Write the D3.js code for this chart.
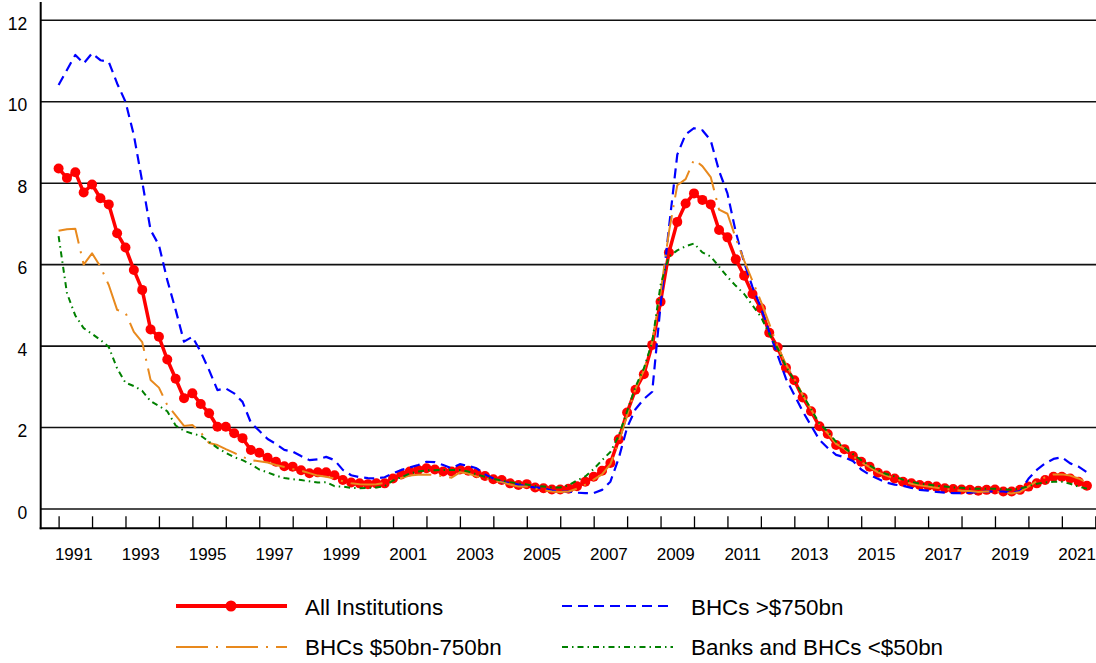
<!DOCTYPE html>
<html><head><meta charset="utf-8">
<script src="https://cdn.jsdelivr.net/npm/d3@7"></script>
<style>
body{margin:0;background:#fff}
svg{display:block}
text{font-family:"Liberation Sans",Arial,Helvetica,sans-serif;fill:#000}
</style>
</head><body>
<svg id="chart" width="1096" height="663"></svg>
<script>
// ---- data (quarterly, 1991Q1 .. 2021Q4) ----
const quarters = [];
for (let yr = 1991; yr <= 2021; yr++) for (let q = 1; q <= 4; q++) quarters.push(yr + "Q" + q);

const allInstitutions = [
 8.36, 8.13, 8.27, 7.77, 7.97, 7.63, 7.48, 6.77, 6.42, 5.87,
 5.38, 4.41, 4.23, 3.67, 3.2, 2.72, 2.84, 2.58, 2.35, 2.02,
 2.02, 1.86, 1.74, 1.45, 1.38, 1.26, 1.16, 1.05, 1.04, 0.95,
 0.88, 0.9, 0.9, 0.83, 0.71, 0.65, 0.63, 0.61, 0.63, 0.63,
 0.75, 0.85, 0.92, 0.96, 1.0, 0.97, 0.92, 0.92, 0.97, 0.94,
 0.88, 0.81, 0.73, 0.71, 0.63, 0.59, 0.61, 0.53, 0.51, 0.48,
 0.48, 0.5, 0.56, 0.67, 0.79, 0.94, 1.13, 1.71, 2.37, 2.93,
 3.31, 4.03, 5.09, 6.3, 7.05, 7.5, 7.75, 7.59, 7.48, 6.85,
 6.67, 6.13, 5.73, 5.28, 4.93, 4.33, 3.97, 3.47, 3.16, 2.74,
 2.4, 2.03, 1.84, 1.57, 1.47, 1.3, 1.16, 1.04, 0.89, 0.82,
 0.75, 0.67, 0.63, 0.59, 0.57, 0.55, 0.51, 0.49, 0.48, 0.47,
 0.45, 0.47, 0.48, 0.43, 0.43, 0.47, 0.55, 0.63, 0.71, 0.79,
 0.79, 0.75, 0.67, 0.57];

const bhcsOver750 = [
 10.41, 10.78, 11.15, 10.94, 11.19, 11.02, 10.98, 10.45, 10.0, 9.18,
 8.04, 6.85, 6.48, 5.62, 4.89, 4.11, 4.23, 3.86, 3.41, 2.92,
 2.96, 2.84, 2.63, 2.12, 1.92, 1.72, 1.6, 1.45, 1.41, 1.3,
 1.2, 1.22, 1.28, 1.2, 0.96, 0.83, 0.78, 0.76, 0.75, 0.78,
 0.88, 0.96, 1.02, 1.08, 1.16, 1.15, 1.08, 1.0, 1.1, 1.06,
 1.0, 0.85, 0.75, 0.66, 0.64, 0.6, 0.55, 0.53, 0.51, 0.45,
 0.43, 0.43, 0.4, 0.39, 0.39, 0.47, 0.67, 1.25, 2.0, 2.45,
 2.7, 2.88, 5.0, 6.9, 8.7, 9.2, 9.35, 9.3, 9.05, 8.3,
 7.75, 6.8, 6.05, 5.45, 4.95, 4.35, 3.78, 3.2, 2.8, 2.4,
 2.05, 1.7, 1.5, 1.33, 1.27, 1.18, 0.97, 0.84, 0.74, 0.65,
 0.6, 0.57, 0.52, 0.47, 0.45, 0.42, 0.4, 0.39, 0.39, 0.4,
 0.42, 0.43, 0.43, 0.43, 0.4, 0.44, 0.74, 0.96, 1.12, 1.23,
 1.27, 1.12, 1.04, 0.9];

const bhcs50to750 = [
 6.83, 6.87, 6.88, 6.0, 6.28, 5.95, 5.5, 4.89, 4.82, 4.35,
 4.1, 3.17, 2.98, 2.55, 2.3, 2.04, 2.06, 1.88, 1.62, 1.57,
 1.47, 1.38, 1.28, 1.2, 1.17, 1.14, 1.08, 1.03, 0.98, 0.94,
 0.88, 0.82, 0.79, 0.75, 0.68, 0.63, 0.61, 0.6, 0.61, 0.64,
 0.7, 0.76, 0.82, 0.84, 0.85, 0.83, 0.8, 0.77, 0.9, 0.87,
 0.8, 0.75, 0.7, 0.66, 0.6, 0.55, 0.55, 0.5, 0.46, 0.43,
 0.42, 0.43, 0.5, 0.6, 0.72, 0.85, 1.1, 1.65, 2.3, 2.95,
 3.4, 4.1, 5.3, 6.8, 7.95, 8.1, 8.58, 8.42, 8.15, 7.35,
 7.25, 6.65, 6.1, 5.6, 5.1, 4.55, 4.0, 3.55, 3.2, 2.8,
 2.45, 2.08, 1.86, 1.6, 1.48, 1.3, 1.15, 1.03, 0.9, 0.82,
 0.75, 0.68, 0.62, 0.58, 0.55, 0.52, 0.49, 0.47, 0.45, 0.44,
 0.42, 0.43, 0.43, 0.4, 0.38, 0.42, 0.55, 0.68, 0.78, 0.85,
 0.85, 0.82, 0.75, 0.65];

const banksUnder50 = [
 6.7, 5.3, 4.75, 4.44, 4.3, 4.15, 3.98, 3.45, 3.1, 3.02,
 2.9, 2.65, 2.53, 2.4, 2.05, 1.92, 1.85, 1.8, 1.65, 1.5,
 1.38, 1.27, 1.2, 1.1, 0.97, 0.9, 0.82, 0.76, 0.73, 0.71,
 0.68, 0.65, 0.66, 0.56, 0.55, 0.52, 0.51, 0.52, 0.53, 0.56,
 0.7, 0.78, 0.87, 0.92, 0.95, 0.95, 0.96, 0.96, 0.96, 0.92,
 0.85, 0.79, 0.74, 0.7, 0.66, 0.63, 0.6, 0.57, 0.55, 0.53,
 0.53, 0.58, 0.7, 0.8, 0.98, 1.2, 1.4, 1.8, 2.4, 3.0,
 3.45, 4.1, 5.5, 6.2, 6.35, 6.45, 6.52, 6.3, 6.2, 5.95,
 5.7, 5.48, 5.28, 5.0, 4.72, 4.3, 3.95, 3.5, 3.15, 2.8,
 2.45, 2.1, 1.9, 1.65, 1.5, 1.35, 1.2, 1.07, 0.95, 0.86,
 0.8, 0.72, 0.67, 0.62, 0.6, 0.57, 0.55, 0.53, 0.52, 0.5,
 0.5, 0.5, 0.5, 0.48, 0.47, 0.5, 0.56, 0.62, 0.65, 0.67,
 0.67, 0.62, 0.55, 0.5];

const seriesNames = ["All Institutions", "BHCs >$750bn", "BHCs $50bn-750bn", "Banks and BHCs <$50bn"];
const yTickValues = [0, 2, 4, 6, 8, 10, 12];
const yearTicks = d3.range(1991, 2023);
const yearLabels = [1991, 1993, 1995, 1997, 1999, 2001, 2003, 2005, 2007, 2009, 2011, 2013, 2015, 2017, 2019, 2021];

// ---- layout ----
const svg = d3.select("#chart");
const plotLeft = 40.7, axisY = 528.3;
const x = d3.scaleLinear().domain([1991, 2022]).range([58.6, 1095.3]);
const y = d3.scaleLinear().domain([0, 12]).range([509, 20.3]);
const qTime = q => +q.slice(0, 4) + (+q.slice(5) - 1) / 4;
const FONT = '"Liberation Sans", Arial, sans-serif';

// gridlines
svg.append("g").selectAll("line").data(yTickValues).join("line")
  .attr("x1", plotLeft).attr("x2", 1096)
  .attr("y1", d => y(d)).attr("y2", d => y(d))
  .attr("stroke", "#111").attr("stroke-width", 1.6);

// y labels
const yAxis = svg.append("g").attr("transform", `translate(${plotLeft},0)`)
  .call(d3.axisLeft(y).tickValues(yTickValues).tickSize(0).tickPadding(13.5).tickFormat(d3.format("d")));
yAxis.select(".domain").remove();
yAxis.selectAll("text").attr("font-size", 17.5).attr("dy", "0.52em")
  .style("font-family", FONT).attr("fill", "#000");

// left axis line
svg.append("line").attr("x1", plotLeft).attr("x2", plotLeft).attr("y1", 2).attr("y2", axisY + 1)
  .attr("stroke", "#000").attr("stroke-width", 2);
// bottom axis line
svg.append("line").attr("x1", plotLeft - 1).attr("x2", 1096).attr("y1", axisY).attr("y2", axisY)
  .attr("stroke", "#000").attr("stroke-width", 2);

// year ticks (pointing up)
const xt = svg.append("g").attr("transform", `translate(0,${axisY})`)
  .call(d3.axisTop(x).tickValues(yearTicks).tickSize(12).tickSizeOuter(0).tickFormat(""));
xt.select(".domain").remove();
xt.selectAll("line").attr("stroke", "#000").attr("stroke-width", 1.3);

// year labels, centred within the year
const xl = svg.append("g").attr("transform", `translate(-2,${axisY})`)
  .call(d3.axisBottom(x).tickValues(yearLabels.map(v => v + 0.5)).tickSize(0).tickFormat(d => Math.floor(d)));
xl.select(".domain").remove();
xl.selectAll("text").attr("font-size", 17).attr("y", 20).attr("dy", "0.71em")
  .style("font-family", FONT).attr("fill", "#000");

// ---- series ----
const line = d3.line().x((d, i) => x(qTime(quarters[i]))).y(d => y(d));
const styles = [
  {data: allInstitutions, color: "#ff0000", width: 3.5, dash: null},
  {data: bhcsOver750, color: "#0000ff", width: 2.2, dash: "10,6"},
  {data: bhcs50to750, color: "#e8891d", width: 2, dash: "32,8,2,8"},
  {data: banksUnder50, color: "#008000", width: 2, dash: "6,4,1.5,4"}
];

// red line + markers first (bottom)
svg.append("path").datum(allInstitutions).attr("d", line)
  .attr("fill", "none").attr("stroke", styles[0].color).attr("stroke-width", styles[0].width)
  .attr("stroke-linejoin", "round");
svg.append("g").selectAll("circle").data(allInstitutions).join("circle")
  .attr("cx", (d, i) => x(qTime(quarters[i]))).attr("cy", d => y(d)).attr("r", 5)
  .attr("fill", "#ff0000");

styles.slice(1).forEach(s => {
  svg.append("path").datum(s.data).attr("d", line)
    .attr("fill", "none").attr("stroke", s.color).attr("stroke-width", s.width)
    .attr("stroke-dasharray", s.dash).attr("stroke-linejoin", "round");
});

// ---- legend ----
const legendItems = [
  {name: seriesNames[0], s: styles[0], lx: 176, ly: 606, ty: 615, marker: true},
  {name: seriesNames[1], s: styles[1], lx: 562, ly: 606, ty: 615},
  {name: seriesNames[2], s: styles[2], lx: 176, ly: 647, ty: 655},
  {name: seriesNames[3], s: styles[3], lx: 562, ly: 647, ty: 655}
];
const lg = svg.append("g");
legendItems.forEach(it => {
  lg.append("line").attr("x1", it.lx).attr("x2", it.lx + 111).attr("y1", it.ly).attr("y2", it.ly)
    .attr("stroke", it.s.color).attr("stroke-width", it.s.width === 3.5 ? 4 : it.s.width)
    .attr("stroke-dasharray", it.s.dash);
  if (it.marker) lg.append("circle").attr("cx", it.lx + 55).attr("cy", it.ly).attr("r", 5.5).attr("fill", it.s.color);
  lg.append("text").attr("x", it.lx + 129).attr("y", it.ty).attr("font-size", 22.4).text(it.name);
});
</script>
</body></html>
